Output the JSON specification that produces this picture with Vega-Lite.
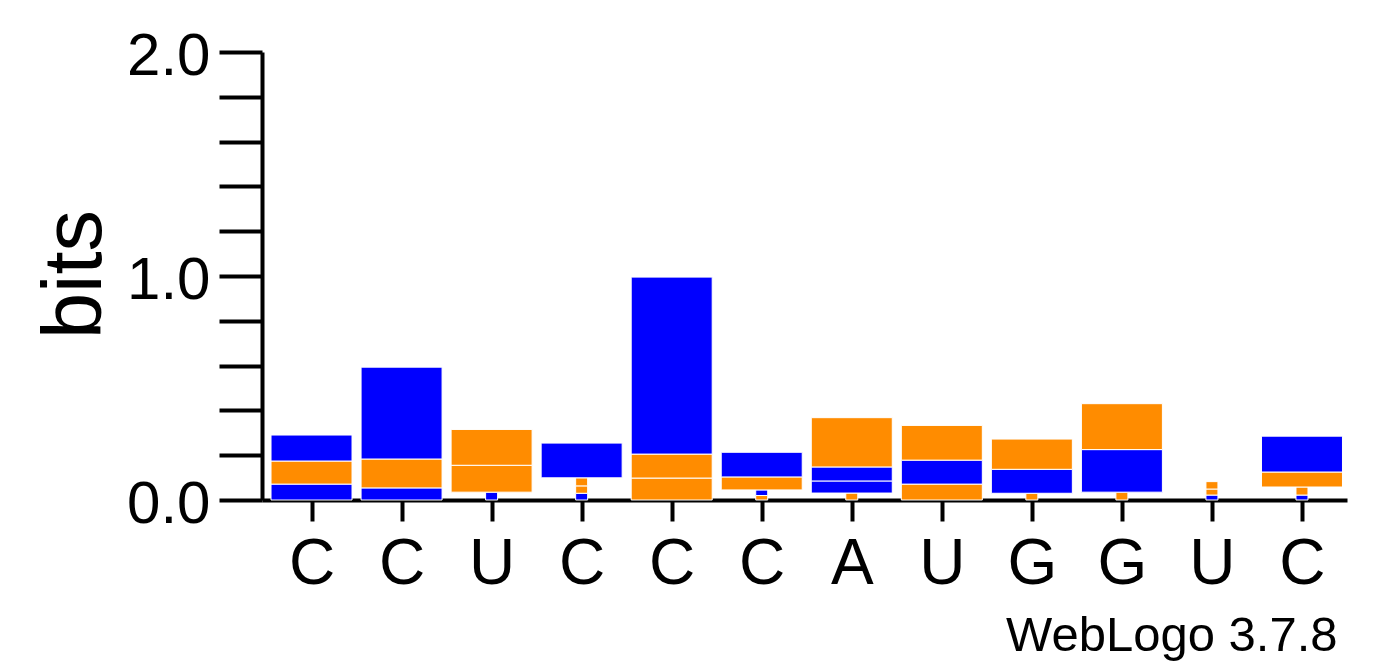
{
  "$schema": "https://vega.github.io/schema/vega-lite/v6.json",
  "width": 1085,
  "height": 448,
  "autosize": {"type": "none"},
  "padding": {"left": 262, "top": 52, "right": 45, "bottom": 167},
  "background": "white",
  "config": {"view": {"stroke": null}, "font": "Liberation Sans"},
  "data": {
    "values": [
      {"position": 1, "letter": "G", "bits": 0.071},
      {"position": 1, "letter": "U", "bits": 0.103},
      {"position": 1, "letter": "C", "bits": 0.116},
      {"position": 2, "letter": "G", "bits": 0.054},
      {"position": 2, "letter": "A", "bits": 0.129},
      {"position": 2, "letter": "C", "bits": 0.41},
      {"position": 3, "letter": "G", "bits": 0.035},
      {"position": 3, "letter": "A", "bits": 0.12},
      {"position": 3, "letter": "U", "bits": 0.16},
      {"position": 4, "letter": "G", "bits": 0.03},
      {"position": 4, "letter": "A", "bits": 0.033},
      {"position": 4, "letter": "U", "bits": 0.036},
      {"position": 4, "letter": "C", "bits": 0.155},
      {"position": 5, "letter": "A", "bits": 0.098},
      {"position": 5, "letter": "U", "bits": 0.107},
      {"position": 5, "letter": "C", "bits": 0.79},
      {"position": 6, "letter": "U", "bits": 0.02},
      {"position": 6, "letter": "G", "bits": 0.025},
      {"position": 6, "letter": "A", "bits": 0.058},
      {"position": 6, "letter": "C", "bits": 0.11},
      {"position": 7, "letter": "U", "bits": 0.031},
      {"position": 7, "letter": "G", "bits": 0.054},
      {"position": 7, "letter": "C", "bits": 0.0625},
      {"position": 7, "letter": "A", "bits": 0.22},
      {"position": 8, "letter": "A", "bits": 0.071},
      {"position": 8, "letter": "C", "bits": 0.107},
      {"position": 8, "letter": "U", "bits": 0.155},
      {"position": 9, "letter": "U", "bits": 0.03},
      {"position": 9, "letter": "G", "bits": 0.107},
      {"position": 9, "letter": "A", "bits": 0.135},
      {"position": 10, "letter": "U", "bits": 0.035},
      {"position": 10, "letter": "G", "bits": 0.19},
      {"position": 10, "letter": "A", "bits": 0.205},
      {"position": 11, "letter": "G", "bits": 0.022},
      {"position": 11, "letter": "A", "bits": 0.027},
      {"position": 11, "letter": "U", "bits": 0.033},
      {"position": 12, "letter": "G", "bits": 0.022},
      {"position": 12, "letter": "A", "bits": 0.036},
      {"position": 12, "letter": "U", "bits": 0.067},
      {"position": 12, "letter": "C", "bits": 0.16}
    ]
  },
  "mark": {"type": "bar", "stroke": "white", "strokeWidth": 1},
  "encoding": {
    "x": {
      "field": "position",
      "type": "quantitative",
      "scale": {"domain": [0.45, 12.5], "nice": false, "zero": false, "padding": 0},
      "axis": {
        "values": [1, 2, 3, 4, 5, 6, 7, 8, 9, 10, 11, 12],
        "labelExpr": "['C','C','U','C','C','C','A','U','G','G','U','C'][datum.value - 1]",
        "title": "WebLogo 3.7.8",
        "titleFontSize": 49,
        "titleFontWeight": "normal",
        "titleColor": "black",
        "titleX": 1075,
        "titleY": 150,
        "titleAlign": "right",
        "titleBaseline": "alphabetic",
        "labelFontSize": 64,
        "labelColor": "black",
        "labelPadding": 11,
        "labelFlush": false,
        "labelOverlap": false,
        "tickSize": 21,
        "tickWidth": 4,
        "tickColor": "black",
        "domainColor": "black",
        "domainWidth": 4,
        "grid": false
      }
    },
    "y": {
      "field": "bits",
      "type": "quantitative",
      "stack": "zero",
      "scale": {"domain": [0, 2], "nice": false, "padding": 0},
      "axis": {
        "values": [0, 0.2, 0.4, 0.6, 0.8, 1, 1.2, 1.4, 1.6, 1.8, 2],
        "labelExpr": "abs(datum.value - round(datum.value)) < 0.001 ? format(datum.value, '.1f') : ''",
        "title": "bits",
        "titleFontSize": 83,
        "titleFontWeight": "normal",
        "titleColor": "black",
        "titleX": -145,
        "titleY": 222,
        "titleAngle": 270,
        "titleAlign": "center",
        "titleBaseline": "bottom",
        "labelFontSize": 60,
        "labelColor": "black",
        "labelPadding": 9,
        "labelOffset": 4,
        "labelFlush": false,
        "labelOverlap": false,
        "tickSize": 43,
        "tickWidth": 4,
        "tickColor": "black",
        "domainColor": "black",
        "domainWidth": 4,
        "grid": false,
        "encoding": {
          "ticks": {
            "x2": {"signal": "abs(datum.value - round(datum.value)) < 0.001 ? -43 : -21"}
          }
        }
      }
    },
    "color": {
      "field": "letter",
      "type": "nominal",
      "scale": {"domain": ["A", "C", "G", "U"], "range": ["#FF8C00", "#0000FF", "#0000FF", "#FF8C00"]},
      "legend": null
    },
    "order": {"field": "bits", "type": "quantitative", "sort": "ascending"},
    "size": {
      "field": "bits",
      "type": "quantitative",
      "scale": {"type": "threshold", "domain": [0.04], "range": [12, 81]},
      "legend": null
    }
  }
}
